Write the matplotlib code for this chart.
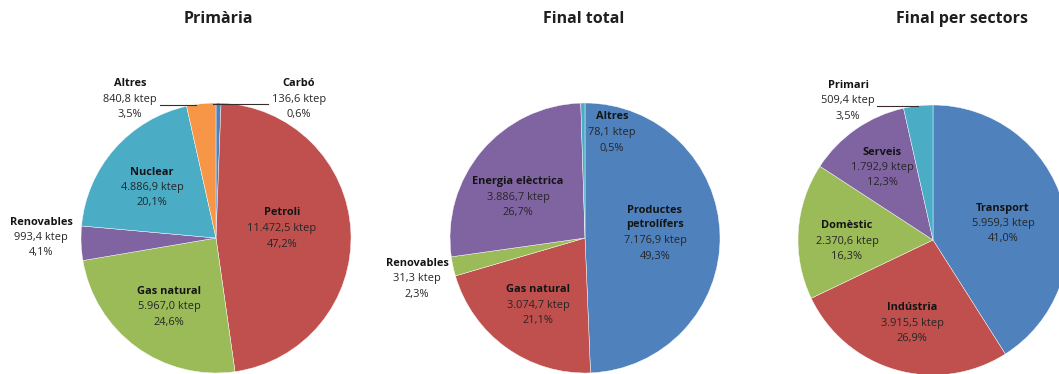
import matplotlib.pyplot as plt

plt.rcParams['font.family'] = ['Open Sans', 'DejaVu Sans']

W, H = 1059, 374

# Excel-style palette
BLUE = "#4F81BD"
RED = "#C0504D"
GREEN = "#9BBB59"
PURPLE = "#8064A2"
AQUA = "#4BACC6"
ORANGE = "#F79646"

# Primària (clockwise from 12 o'clock)
prim_names = ["Carbó", "Petroli", "Gas natural", "Renovables", "Nuclear", "Altres"]
prim_ktep = ["136,6", "11.472,5", "5.967,0", "993,4", "4.886,9", "840,8"]
prim_pct = [0.6, 47.2, 24.6, 4.1, 20.1, 3.5]

# Final total
tot_names = ["Productes\npetrolífers", "Gas natural", "Renovables", "Energia elèctrica", "Altres"]
tot_ktep = ["7.176,9", "3.074,7", "31,3", "3.886,7", "78,1"]
tot_pct = [49.3, 21.1, 2.3, 26.7, 0.5]

# Final per sectors
sec_names = ["Transport", "Indústria", "Domèstic", "Serveis", "Primari"]
sec_ktep = ["5.959,3", "3.915,5", "2.370,6", "1.792,9", "509,4"]
sec_pct = [41.0, 26.9, 16.3, 12.3, 3.5]

pies = [
    dict(title="Primària", names=prim_names, ktep=prim_ktep, pct=prim_pct,
         colors=[BLUE, RED, GREEN, PURPLE, AQUA, ORANGE],
         center=(216, 238), radius=135, title_x=218,
         label_xy=[(299, 84), (282, 213), (169, 291), (41, 222), (152, 172), (130, 84)],
         leaders=[((213, 104), (268, 104)), ((160, 105), (196, 105))]),
    dict(title="Final total", names=tot_names, ktep=tot_ktep, pct=tot_pct,
         colors=[BLUE, RED, GREEN, PURPLE, AQUA],
         center=(585, 238), radius=135, title_x=584,
         label_xy=[(655, 210), (538, 290), (417, 263), (518, 182), (612, 117)],
         leaders=[]),
    dict(title="Final per sectors", names=sec_names, ktep=sec_ktep, pct=sec_pct,
         colors=[BLUE, RED, GREEN, PURPLE, AQUA],
         center=(933, 240), radius=135, title_x=962,
         label_xy=[(1003, 208), (912, 308), (847, 226), (882, 152), (848, 85)],
         leaders=[((877, 106), (918, 106))]),
]

fig = plt.figure(figsize=(W / 100, H / 100), dpi=100)
fig.patch.set_facecolor("white")

LINE = 15.5  # label line spacing in pixels
FS = 7.9


def fx(px):
    return px / W


def fy(py):
    return 1 - py / H


for p in pies:
    cx, cy = p["center"]
    r = p["radius"]
    ax = fig.add_axes([fx(cx - r), fy(cy + r), 2 * r / W, 2 * r / H])
    ax.pie(p["pct"], colors=p["colors"], startangle=90, counterclock=False,
           radius=1, wedgeprops=dict(edgecolor="white", linewidth=0.3))
    ax.set_xlim(-1, 1)
    ax.set_ylim(-1, 1)
    ax.set_aspect("equal")
    ax.axis("off")

    fig.text(fx(p["title_x"]), fy(19), p["title"], ha="center", va="center",
             fontsize=11.5, fontweight="bold", color="#1f1f1f")

    for name, kt, pc, (lx, ly) in zip(p["names"], p["ktep"], p["pct"], p["label_xy"]):
        n_lines = name.count("\n") + 1
        fig.text(fx(lx), fy(ly + (n_lines - 1) * LINE / 2), name, ha="center", va="center",
                 fontsize=FS, fontweight="bold", color="#141414", linespacing=1.4)
        y2 = ly + n_lines * LINE
        fig.text(fx(lx), fy(y2), f"{kt} ktep", ha="center", va="center",
                 fontsize=FS, color="#262626")
        fig.text(fx(lx), fy(y2 + LINE), f"{pc:.1f}%".replace(".", ","), ha="center",
                 va="center", fontsize=FS, color="#262626")

    for (x0, y0), (x1, y1) in p["leaders"]:
        fig.add_artist(plt.Line2D([fx(x0), fx(x1)], [fy(y0), fy(y1)],
                                  transform=fig.transFigure, color="#3a2a2a", lw=0.8))

fig.savefig("out.png", dpi=100, facecolor="white")
